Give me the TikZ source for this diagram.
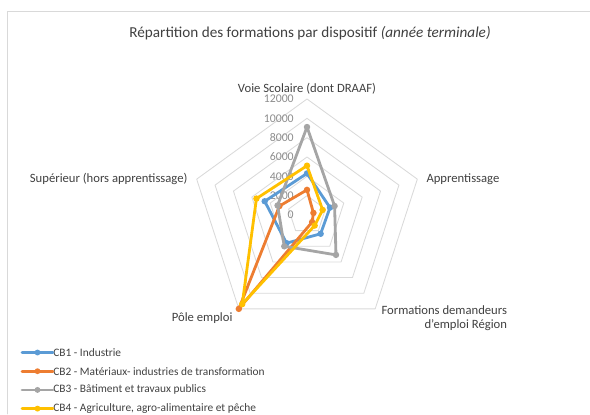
\documentclass[tikz,border=0pt]{standalone}
\usepackage{fontspec}
\setmainfont{Carlito}
\usetikzlibrary{positioning,calc}

\definecolor{cbbleu}{HTML}{5B9BD5}
\definecolor{cborange}{HTML}{ED7D31}
\definecolor{cbgris}{HTML}{A5A5A5}
\definecolor{cbjaune}{HTML}{FFC000}
\definecolor{grille}{HTML}{D9D9D9}
\definecolor{texte}{HTML}{404040}
\definecolor{graduation}{HTML}{8C8C8C}

\newcommand\echelle{9.667}

\tikzset{
  anneau/.style={draw=grille, line width=0.6pt},
  serie/.style={line width=2pt, line join=round},
  categorie/.style={text=texte, font=\fontsize{9}{10.5}\selectfont},
  graduationtxt/.style={text=graduation, font=\fontsize{8.4}{10}\selectfont, anchor=east, inner sep=0pt},
  legende/.style={text=texte, font=\fontsize{8.1}{9}\selectfont, inner sep=0pt, minimum height=12.9pt, anchor=west}
}

\begin{document}
\begin{tikzpicture}[x=0.025cm, y=0.025cm, line join = round, line cap = round]
  \useasboundingbox (0,0) rectangle (590,-414);

  % cadre
  \draw[grille, line width=0.6pt] (7,-414) -- (7,-11) -- (590,-11);

  % titre
  \node[text=texte, font=\fontsize{10.8}{12}\selectfont] (titre) at (310,-33)
    {Répartition des formations par dispositif \textit{(année terminale)}};

  \begin{scope}[shift={(307,-215)}]

    % anneaux
    \foreach \k in {1,...,6}
      \draw[anneau] (90:{\k*2*\echelle}) -- (18:{\k*2*\echelle}) -- (-54:{\k*2*\echelle})
        -- (234:{\k*2*\echelle}) -- (162:{\k*2*\echelle}) -- cycle;

    % graduations
    \foreach \v [count=\k from 0] in {0,2000,4000,6000,8000,10000,12000}
      \node[graduationtxt] (g\k) at (-13,{\k*2*\echelle}) {\v};

    % axes
    \coordinate [label={[categorie, label distance=0pt]above:Voie Scolaire (dont DRAAF)}] (voie) at (90:{12*\echelle});
    \coordinate [label={[categorie, label distance=3pt]right:Apprentissage}] (appr) at (18:{12*\echelle});
    \coordinate [label={[categorie, align=right, label distance=1pt, yshift=-6.6pt]right:{Formations demandeurs\\d'emploi Région}}] (form) at (-54:{12*\echelle});
    \coordinate [label={[categorie, label distance=1pt, yshift=-6.4pt]left:Pôle emploi}] (pole) at (234:{12*\echelle});
    \coordinate [label={[categorie, label distance=3pt]left:Supérieur (hors apprentissage)}] (sup) at (162:{12*\echelle});

    % CB1
    \coordinate (b1) at (90:{4.3*\echelle});
    \coordinate (b2) at (18:{2.5*\echelle});
    \coordinate (b3) at (-54:{2.4*\echelle});
    \coordinate (b4) at (234:{3.6*\echelle});
    \coordinate (b5) at (162:{4.6*\echelle});
    % CB2
    \coordinate (o1) at (90:{2.6*\echelle});
    \coordinate (o2) at (18:{0.7*\echelle});
    \coordinate (o3) at (-54:{0.9*\echelle});
    \coordinate (o4) at (234:{12.0*\echelle});
    \coordinate (o5) at (162:{3.0*\echelle});
    % CB3
    \coordinate (r1) at (90:{9.1*\echelle});
    \coordinate (r2) at (18:{3.0*\echelle});
    \coordinate (r3) at (-54:{5.1*\echelle});
    \coordinate (r4) at (234:{4.0*\echelle});
    \coordinate (r5) at (162:{3.2*\echelle});
    % CB4
    \coordinate (j1) at (90:{5.1*\echelle});
    \coordinate (j2) at (18:{1.7*\echelle});
    \coordinate (j3) at (-54:{1.35*\echelle});
    \coordinate (j4) at (234:{11.4*\echelle});
    \coordinate (j5) at (162:{5.5*\echelle});

    \draw[serie, cbbleu] (b1) -- (b2) -- (b3) -- (b4) -- (b5) -- cycle;
    \foreach \p in {b1,b2,b3,b4,b5} \fill[cbbleu] (\p) circle [radius=2.3pt];
    \draw[serie, cborange] (o1) -- (o2) -- (o3) -- (o4) -- (o5) -- cycle;
    \foreach \p in {o1,o2,o3,o4,o5} \fill[cborange] (\p) circle [radius=2.3pt];
    \draw[serie, cbgris] (r1) -- (r2) -- (r3) -- (r4) -- (r5) -- cycle;
    \foreach \p in {r1,r2,r3,r4,r5} \fill[cbgris] (\p) circle [radius=2.3pt];
    \draw[serie, cbjaune] (j1) -- (j2) -- (j3) -- (j4) -- (j5) -- cycle;
    \foreach \p in {j1,j2,j3,j4,j5} \fill[cbjaune] (\p) circle [radius=2.3pt];
  \end{scope}

  % legende
  \node[legende] (leg1) at (53,-352.5) {CB1 - Industrie};
  \node[legende, below=0pt of leg1.south west, anchor=north west] (leg2) {CB2 - Matériaux- industries de transformation};
  \node[legende, below=0pt of leg2.south west, anchor=north west] (leg3) {CB3 - Bâtiment et travaux publics};
  \node[legende, below=0pt of leg3.south west, anchor=north west] (leg4) {CB4 - Agriculture, agro-alimentaire et pêche};

  \draw[serie, cbbleu] (leg1.west) ++(-31,0) coordinate (m1) -- (leg1.west);
  \fill[cbbleu] ($(m1)!0.5!(leg1.west)$) circle [radius=2.1pt];
  \draw[serie, cborange] (leg2.west) ++(-31,0) coordinate (m2) -- (leg2.west);
  \fill[cborange] ($(m2)!0.5!(leg2.west)$) circle [radius=2.1pt];
  \draw[serie, cbgris] (leg3.west) ++(-31,0) coordinate (m3) -- (leg3.west);
  \fill[cbgris] ($(m3)!0.5!(leg3.west)$) circle [radius=2.1pt];
  \draw[serie, cbjaune] (leg4.west) ++(-31,0) coordinate (m4) -- (leg4.west);
  \fill[cbjaune] ($(m4)!0.5!(leg4.west)$) circle [radius=2.1pt];

\end{tikzpicture}
\end{document}
